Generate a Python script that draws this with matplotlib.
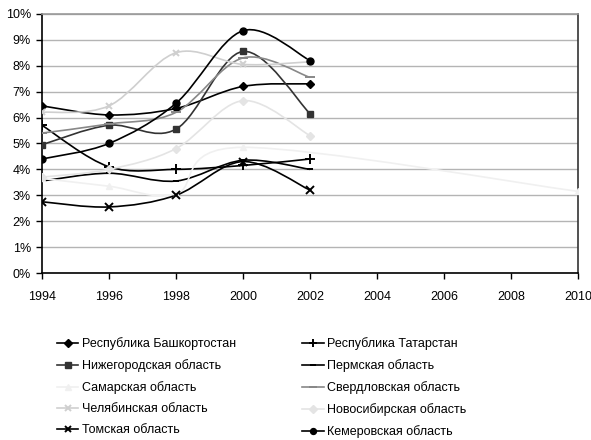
import matplotlib
matplotlib.use("Agg")
import matplotlib.pyplot as plt
from matplotlib.path import Path
from matplotlib.patches import PathPatch
from matplotlib.lines import Line2D
from matplotlib import font_manager
import numpy as np

years = [1994, 1996, 1998, 2000, 2002]
samara_years = [1994, 1996, 1998, 2000, 2010]

bashkortostan = [6.45, 6.1, 6.35, 7.2, 7.3]
tatarstan = [5.7, 4.1, 4.0, 4.15, 4.4]
nizhny = [4.95, 5.7, 5.55, 8.55, 6.15]
perm = [3.55, 3.85, 3.55, 4.35, 4.0]
samara = [3.65, 3.35, 3.05, 4.85, 3.15]
sverdlovsk = [5.4, 5.75, 6.2, 8.3, 7.55]
chelyabinsk = [6.2, 6.45, 8.5, 8.05, 8.15]
novosibirsk = [3.7, 4.0, 4.8, 6.65, 5.3]
tomsk = [2.75, 2.55, 3.0, 4.3, 3.2]
kemerovo = [4.4, 5.0, 6.55, 9.35, 8.2]

names = ["Республика Башкортостан", "Республика Татарстан", "Нижегородская область",
         "Пермская область", "Самарская область", "Свердловская область",
         "Челябинская область", "Новосибирская область", "Томская область",
         "Кемеровская область"]

x_ticks = [1994, 1996, 1998, 2000, 2002, 2004, 2006, 2008, 2010]
y_ticks = [0, 1, 2, 3, 4, 5, 6, 7, 8, 9, 10]
y_labels = ["0%", "1%", "2%", "3%", "4%", "5%", "6%", "7%", "8%", "9%", "10%"]

avail = {f.name for f in font_manager.fontManager.ttflist}
fam = "Liberation Sans Narrow" if "Liberation Sans Narrow" in avail else "Liberation Sans"
plt.rcParams['font.family'] = [fam, 'DejaVu Sans']

series = [
    (years, bashkortostan, "#000000", "D", 4.5),
    (years, tatarstan, "#000000", "+", 7),
    (years, nizhny, "#333333", "s", 5),
    (years, perm, "#000000", "_", 5),
    (samara_years, samara, "#f0f0f0", "^", 5),
    (years, sverdlovsk, "#888888", "_", 7),
    (years, chelyabinsk, "#cfcfcf", "x", 5),
    (years, novosibirsk, "#e4e4e4", "D", 4.5),
    (years, tomsk, "#000000", "x", 5.5),
    (years, kemerovo, "#000000", "o", 5),
]

fig = plt.figure(figsize=(5.91, 4.40), dpi=100)
ax = fig.add_axes([0.071, 0.3795, 0.907, 0.589])


def smooth_path(xs, ys):
    pts = np.column_stack([xs, ys]).astype(float)
    n = len(pts)
    verts = [pts[0]]
    codes = [Path.MOVETO]
    for i in range(n - 1):
        p0 = pts[i - 1] if i > 0 else pts[i]
        p1 = pts[i]
        p2 = pts[i + 1]
        p3 = pts[i + 2] if i + 2 < n else pts[i + 1]
        c1 = p1 + (p2 - p0) / 6.0
        c2 = p2 - (p3 - p1) / 6.0
        verts += [c1, c2, p2]
        codes += [Path.CURVE4] * 3
    return Path(verts, codes)


handles = []
for (xs, ys, col, mk, ms), name in zip(series, names):
    patch = PathPatch(smooth_path(xs, ys), facecolor="none", edgecolor=col, lw=1.2, zorder=3)
    ax.add_patch(patch)
    mew = 1.4 if mk in ("+", "x", "_") else 1.0
    ax.plot(xs, ys, linestyle="none", marker=mk, color=col, markersize=ms,
            markeredgewidth=mew, zorder=4)
    handles.append(Line2D([], [], color=col, lw=1.2, marker=mk, markersize=ms * 0.85,
                          markeredgewidth=mew, label=name))

ax.set_xlim(1994, 2010)
ax.set_ylim(0, 10)
ax.set_xticks(x_ticks)
ax.set_xticklabels([str(v) for v in x_ticks], fontsize=9)
ax.set_yticks(y_ticks)
ax.set_yticklabels(y_labels, fontsize=9)
ax.yaxis.grid(True, color="#b4b4b4", lw=1.0)
ax.set_axisbelow(True)
ax.tick_params(axis="both", direction="out", length=4, width=1, color="#000000")
ax.tick_params(axis="x", pad=9)
ax.tick_params(axis="y", pad=4)
for s in ["left", "bottom"]:
    ax.spines[s].set_color("#000000")
    ax.spines[s].set_linewidth(1.2)
ax.spines["top"].set_color("#999999")
ax.spines["top"].set_linewidth(1.2)
ax.spines["right"].set_color("#333333")
ax.spines["right"].set_linewidth(1.2)

order = [0, 2, 4, 6, 8, 1, 3, 5, 7, 9]
leg = fig.legend([handles[i] for i in order], [names[i] for i in order],
                 ncol=2, loc="upper left", bbox_to_anchor=(0.088, 0.245),
                 frameon=False, fontsize=9, handlelength=1.7, handletextpad=0.3,
                 columnspacing=5.3, labelspacing=0.72, borderaxespad=0)

fig.savefig("out.png", dpi=100)
